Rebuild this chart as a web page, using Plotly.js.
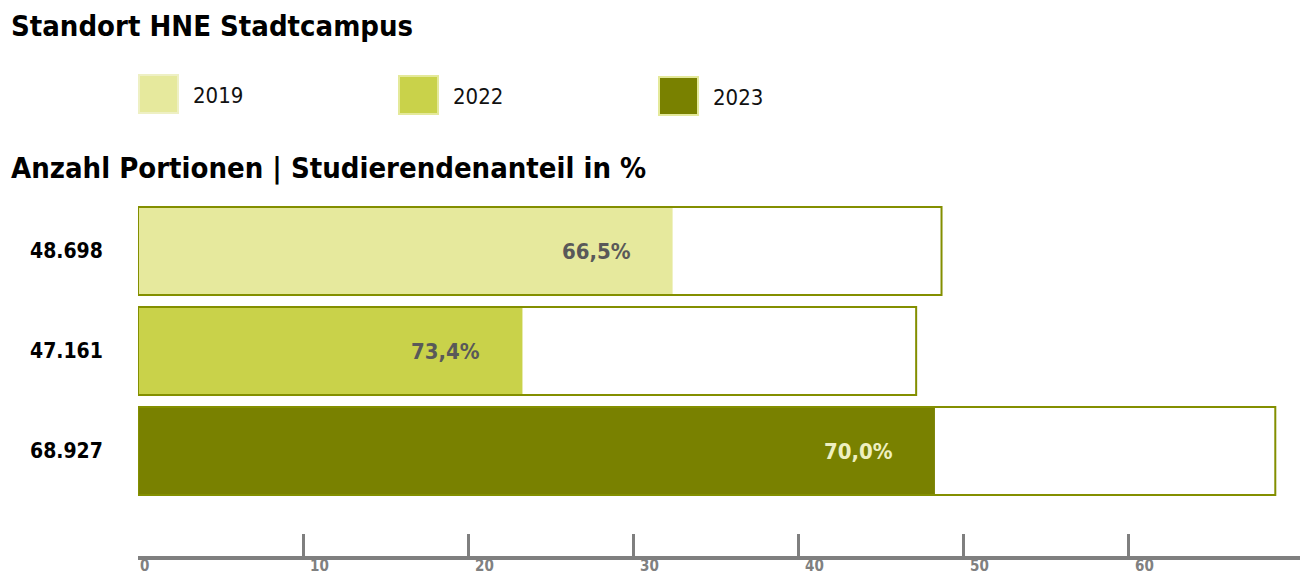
<!DOCTYPE html>
<html>
<head>
<meta charset="utf-8">
<script src="https://cdn.plot.ly/plotly-3.0.1.min.js"></script>
<style>html,body{margin:0;padding:0;background:#fff;}#chart{width:1300px;height:585px;}</style>
</head>
<body>
<div id="chart"></div>
<script>
// ---- data ----
const years = ['2019', '2022', '2023'];
const portions = [48698, 47161, 68927];          // Anzahl Portionen
const studentShare = [66.5, 73.4, 70.0];          // Studierendenanteil in %
const filledLength = [32.4, 23.3, 48.3];          // filled bar length as drawn (thousands)
const colors = ['#e6e99d', '#c9d24a', '#798100'];
const pctLabelColors = ['#595959', '#595959', '#eef0c0'];
const tickValues = [0, 10, 20, 30, 40, 50, 60];

// ---- helpers ----
const FONT = '"Liberation Sans Narrow", "Arial Narrow", "DejaVu Sans Condensed", sans-serif';
const W = 1300, H = 585, ML = 138, MR = 0, MT = 196, MB = 29;
const PW = W - ML - MR, PH = H - MT - MB;
const px = x => (x - ML) / PW;
const py = y => 1 - (y - MT) / PH;
const fmtThousands = n => String(n).replace(/\B(?=(\d{3})+(?!\d))/g, '.');
const fmtPct = v => v.toFixed(1).replace('.', ',') + '%';

const totals = portions.map(p => p / 1000);
const yIdx = years.map((_, i) => i);

const fillTrace = {
  type: 'bar', orientation: 'h',
  y: yIdx, x: filledLength,
  marker: {color: colors, line: {width: 0}},
  width: 0.88, hoverinfo: 'skip', showlegend: false
};
const outlineTrace = {
  type: 'bar', orientation: 'h',
  y: yIdx, x: totals,
  marker: {color: 'rgba(0,0,0,0)', line: {color: '#838f00', width: 2}},
  width: 0.88, hoverinfo: 'skip', showlegend: false
};

const annotations = [];
// titles
annotations.push({xref: 'paper', yref: 'paper', x: px(9), y: py(26), xanchor: 'left', yanchor: 'middle',
  text: '<b>Standort HNE Stadtcampus</b>', showarrow: false, font: {family: FONT, size: 29, color: '#000'}});
annotations.push({xref: 'paper', yref: 'paper', x: px(9), y: py(168), xanchor: 'left', yanchor: 'middle',
  text: '<b>Anzahl Portionen | Studierendenanteil in %</b>', showarrow: false, font: {family: FONT, size: 29, color: '#000'}});

// legend (custom)
const shapes = [];
years.forEach((yr, i) => {
  const x0 = 139 + i * 260;
  shapes.push({type: 'rect', xref: 'paper', yref: 'paper', x0: px(x0), x1: px(x0 + 39), y0: py(75 + i), y1: py(113 + i),
    fillcolor: colors[i], line: {color: i === 0 ? '#eef0c4' : '#e4e99a', width: 2}});
  annotations.push({xref: 'paper', yref: 'paper', x: px(x0 + 52), y: py(95 + i), xanchor: 'left', yanchor: 'middle',
    text: yr, showarrow: false, font: {family: FONT, size: 22, color: '#111'}});
});

// portion labels (left) and percentage labels (inside)
years.forEach((yr, i) => {
  annotations.push({xref: 'paper', yref: 'y', x: px(66), y: i, xanchor: 'center', yanchor: 'middle',
    text: '<b>' + fmtThousands(portions[i]) + '</b>', showarrow: false, font: {family: FONT, size: 21, color: '#000'}});
  annotations.push({xref: 'x', yref: 'y', x: filledLength[i], y: i, xanchor: 'right', yanchor: 'middle', xshift: -40,
    text: '<b>' + fmtPct(studentShare[i]) + '</b>', showarrow: false, font: {family: FONT, size: 22, color: pctLabelColors[i]}});
});
// axis labels, placed through the x scale, shifted right of each tick
tickValues.forEach(v => {
  annotations.push({xref: 'x', yref: 'paper', x: v, y: 0, yshift: -10, xshift: v === 0 ? 6 : 16, xanchor: 'center', yanchor: 'middle',
    text: '<b>' + v + '</b>', showarrow: false, font: {family: FONT, size: 15, color: '#808080'}});
});

const layout = {
  width: W, height: H,
  margin: {l: ML, r: MR, t: MT, b: MB, pad: 0},
  paper_bgcolor: '#fff', plot_bgcolor: '#fff',
  barmode: 'overlay',
  showlegend: false,
  xaxis: {
    range: [0, PW / 16.5], showgrid: false, zeroline: false,
    showline: true, linecolor: '#7f7f7f', linewidth: 4,
    tickmode: 'array', tickvals: tickValues.filter(v => v > 0),
    ticks: 'inside', ticklen: 22, tickwidth: 3, tickcolor: '#7f7f7f',
    showticklabels: false,
    fixedrange: true
  },
  yaxis: {
    range: [3.05, -0.55], showgrid: false, zeroline: false, showline: false,
    showticklabels: false, ticks: '', fixedrange: true
  },
  annotations: annotations,
  shapes: shapes
};

Plotly.newPlot('chart', [fillTrace, outlineTrace], layout, {displayModeBar: false, staticPlot: true});
</script>
</body>
</html>
